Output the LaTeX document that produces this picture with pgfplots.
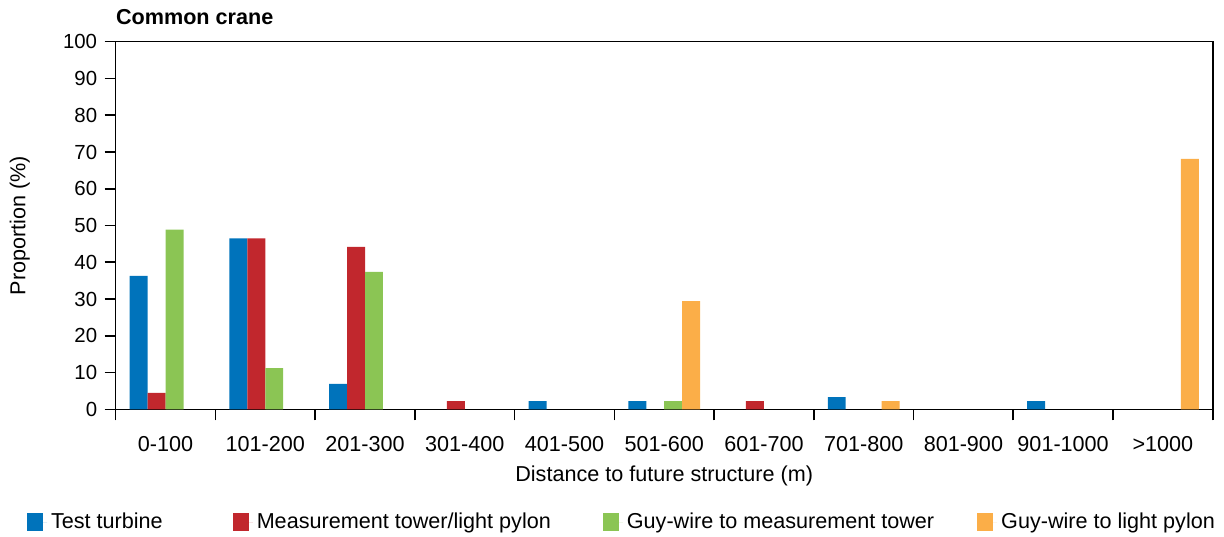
\documentclass[border=0pt]{standalone}
\usepackage{pgfplots}
\pgfplotsset{compat=1.18}
\usepackage{fontspec}
\setmainfont{Liberation Sans}

\definecolor{cblue}{RGB}{0,115,187}
\definecolor{cred}{RGB}{193,39,45}
\definecolor{cgreen}{RGB}{139,197,84}
\definecolor{corange}{RGB}{251,174,72}

\begin{document}
\fontsize{10.8}{13}\selectfont
\begin{tikzpicture}
  \begin{axis}[
      at={(0,0)}, anchor=south west,
      scale only axis,
      width=548.5pt, height=183.8pt,
      ybar=0pt, bar width=0.18,
      xmin=-0.5, xmax=10.5,
      ymin=0, ymax=100,
      xtick={0,...,10},
      xticklabels={0-100,101-200,201-300,301-400,401-500,501-600,601-700,701-800,801-900,901-1000,>1000},
      minor xtick={-0.5,0.5,...,10.5},
      major x tick style={draw=none},
      x tick label style={yshift=-4.5pt},
      y tick label style={font=\fontsize{10.2}{12}\selectfont},
      ytick={0,10,...,100},
      tick align=outside,
      major tick length=5.5pt, minor tick length=5.5pt,
      every tick/.style={black, line width=0.8pt},
      axis line style={line width=0.8pt},
      tick pos=left,
      /pgf/number format/assume math mode=true,
      title={Common crane},
      title style={at={(axis description cs:0,1)}, anchor=base west, font=\bfseries, inner sep=0pt, yshift=2.5pt},
      xlabel={Distance to future structure (m)},
      ylabel={Proportion (\%)},
      every axis x label/.style={at={(axis description cs:0.5,0)},anchor=center,yshift=-33.5pt},
      every axis y label/.style={at={(axis description cs:-0.0875,0.5)},anchor=center,rotate=90},
      every axis plot post/.append style={draw=none},
      legend columns=4,
      legend style={at={(axis description cs:0,0)}, anchor=west, xshift=-44.5pt, yshift=-56.4pt,
        draw=none, fill=none, inner sep=0pt,
        /tikz/column 2/.style={column sep=33pt},
        /tikz/column 4/.style={column sep=24pt},
        /tikz/column 6/.style={column sep=19.5pt}},
    ]
    \addplot[fill=cblue, legend image code/.code={\fill[cblue] (0pt,-4.5pt) rectangle (8pt,4.5pt); \path (8pt,0) -- (10pt,0);}]
      coordinates {(0,36.3) (1,46.5) (2,6.9) (4,2.2) (5,2.2) (7,3.3) (9,2.2)};
    \addplot[fill=cred, legend image code/.code={\fill[cred] (0pt,-4.5pt) rectangle (8pt,4.5pt); \path (8pt,0) -- (10pt,0);}]
      coordinates {(0,4.5) (1,46.5) (2,44.2) (3,2.2) (6,2.2)};
    \addplot[fill=cgreen, legend image code/.code={\fill[cgreen] (0pt,-4.5pt) rectangle (8pt,4.5pt); \path (8pt,0) -- (10pt,0);}]
      coordinates {(0,48.9) (1,11.2) (2,37.4) (5,2.2)};
    \addplot[fill=corange, legend image code/.code={\fill[corange] (0pt,-4.5pt) rectangle (8pt,4.5pt); \path (8pt,0) -- (10pt,0);}]
      coordinates {(5,29.4) (7,2.2) (10,68.1)};
    \legend{Test turbine,Measurement tower/light pylon,Guy-wire to measurement tower,Guy-wire to light pylon}
  \end{axis}
  \pgfresetboundingbox
  \path (-57.85pt,-63.35pt) rectangle (554.15pt,204.65pt);
\end{tikzpicture}
\end{document}
